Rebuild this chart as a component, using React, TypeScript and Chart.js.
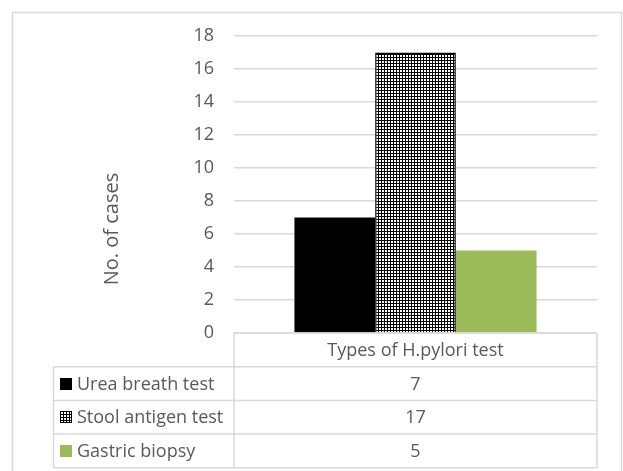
import React, { useEffect, useRef } from "react";
import { Chart, registerables } from "chart.js";

Chart.register(...registerables);

const categories = ["Types of H.pylori test"];
const seriesNames = ["Urea breath test", "Stool antigen test", "Gastric biopsy"];
const ureaBreathTest = [7];
const stoolAntigenTest = [17];
const gastricBiopsy = [5];
const yAxisTitle = "No. of cases";
const yMin = 0;
const yMax = 18;
const yStep = 2;

const FONT = "'Open Sans', sans-serif";
const TEXT = "#595959";
const LINE = "#d9d9d9";
const GREEN = "#9bbb59";

function makeGridPattern(): CanvasPattern | string {
  const c = document.createElement("canvas");
  c.width = 3;
  c.height = 3;
  const g = c.getContext("2d");
  if (!g) return "#888";
  g.fillStyle = "#ffffff";
  g.fillRect(0, 0, 3, 3);
  g.fillStyle = "#000000";
  g.fillRect(0, 0, 3, 1);
  g.fillRect(0, 0, 1, 3);
  return g.createPattern(c, "repeat") || "#888";
}

export default function App() {
  const ref = useRef<HTMLCanvasElement | null>(null);

  useEffect(() => {
    const canvas = ref.current;
    if (!canvas) return;
    const pattern = makeGridPattern();
    const seriesValues = [ureaBreathTest, stoolAntigenTest, gastricBiopsy];
    const fills: (string | CanvasPattern)[] = ["#000000", pattern, GREEN];

    const framePlugin = {
      id: "frame",
      beforeDraw(chart: any) {
        const ctx = chart.ctx;
        ctx.save();
        ctx.fillStyle = "#ffffff";
        ctx.fillRect(0, 0, chart.width, chart.height);
        ctx.strokeStyle = LINE;
        ctx.lineWidth = 1.5;
        ctx.strokeRect(12.5, 12.5, 609, 480);
        ctx.restore();
      },
    };

    const tablePlugin = {
      id: "dataTable",
      afterDraw(chart: any) {
        const ctx = chart.ctx;
        const { left, right, bottom } = chart.chartArea;
        const xScale = chart.scales.x;
        const rowH = 33.7;
        const tableLeft = 53.5;
        ctx.save();
        ctx.strokeStyle = LINE;
        ctx.lineWidth = 1.5;
        ctx.beginPath();
        ctx.moveTo(left, bottom);
        ctx.lineTo(right, bottom);
        for (let i = 1; i <= 4; i++) {
          const y = bottom + rowH * i;
          ctx.moveTo(tableLeft, y);
          ctx.lineTo(right, y);
        }
        ctx.moveTo(left, bottom);
        ctx.lineTo(left, bottom + rowH * 4);
        ctx.moveTo(right, bottom);
        ctx.lineTo(right, bottom + rowH * 4);
        ctx.moveTo(tableLeft, bottom + rowH);
        ctx.lineTo(tableLeft, bottom + rowH * 4);
        ctx.stroke();

        ctx.fillStyle = TEXT;
        ctx.font = `18px ${FONT}`;
        ctx.textBaseline = "middle";
        ctx.textAlign = "center";
        categories.forEach((cat, ci) => {
          const cx = xScale.getPixelForValue(ci);
          ctx.fillText(cat, cx, bottom + rowH / 2 + 1);
        });

        seriesNames.forEach((name, si) => {
          const cy = bottom + rowH * (si + 1) + rowH / 2;
          const ks = 12;
          const kx = 60;
          const ky = Math.round(cy - ks / 2);
          ctx.fillStyle = fills[si] as any;
          ctx.fillRect(kx, ky, ks, ks);
          if (si === 1) {
            ctx.strokeStyle = "#000";
            ctx.lineWidth = 1;
            ctx.strokeRect(kx + 0.5, ky + 0.5, ks - 1, ks - 1);
          }
          ctx.fillStyle = TEXT;
          ctx.textAlign = "left";
          ctx.fillText(name, 77, cy + 1);
          ctx.textAlign = "center";
          categories.forEach((_, ci) => {
            const cx = xScale.getPixelForValue(ci);
            ctx.fillText(String(seriesValues[si][ci]), cx, cy + 1);
          });
        });

        ctx.save();
        ctx.translate(112, 229);
        ctx.rotate(-Math.PI / 2);
        ctx.textAlign = "center";
        ctx.fillStyle = TEXT;
        ctx.font = `20px ${FONT}`;
        ctx.fillText(yAxisTitle, 0, 0);
        ctx.restore();

        ctx.restore();
      },
    };

    const chart = new Chart(canvas, {
      type: "bar",
      data: {
        labels: categories,
        datasets: seriesNames.map((name, si) => ({
          label: name,
          data: seriesValues[si],
          backgroundColor: fills[si] as any,
          borderColor: "#000000",
          borderWidth: si === 1 ? 1.5 : 0,
          categoryPercentage: 0.667,
          barPercentage: 1,
        })),
      },
      options: {
        responsive: false,
        animation: false,
        devicePixelRatio: 1,
        layout: { padding: { left: 0, right: 26, top: 36, bottom: 138 } },
        plugins: {
          legend: { display: false },
          tooltip: { enabled: false },
          title: { display: false },
        },
        scales: {
          x: { display: false, offset: true },
          y: {
            min: yMin,
            max: yMax,
            ticks: {
              stepSize: yStep,
              padding: 20,
              color: TEXT,
              font: { family: FONT, size: 18 },
            },
            grid: { color: LINE, lineWidth: 1.5, drawTicks: false },
            border: { display: false },
            afterFit(scale: any) {
              scale.width = 234;
            },
          },
        },
      },
      plugins: [framePlugin, tablePlugin],
    });
    return () => chart.destroy();
  }, []);

  return (
    <div style={{ position: "absolute", left: 0, top: 0, width: 623, height: 471 }}>
      <canvas ref={ref} width={623} height={471} style={{ display: "block" }} />
    </div>
  );
}
